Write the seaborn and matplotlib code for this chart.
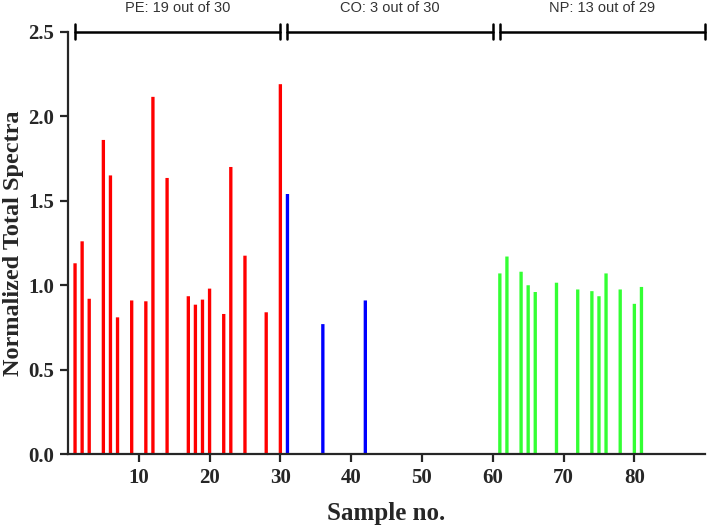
import pandas as pd
import matplotlib
matplotlib.use("Agg")
import matplotlib.pyplot as plt
import seaborn as sns

# sample numbers and normalized total spectra
pe_samples = [1, 2, 3, 5, 6, 7, 9, 11, 12, 14, 17, 18, 19, 20, 22, 23, 25, 28, 30]
pe_values = [1.13, 1.26, 0.92, 1.86, 1.65, 0.81, 0.91, 0.905, 2.115, 1.635,
             0.935, 0.885, 0.915, 0.98, 0.83, 1.70, 1.175, 0.84, 2.19]
co_samples = [31, 36, 42]
co_values = [1.54, 0.77, 0.91]
np_samples = [61, 62, 64, 65, 66, 69, 72, 74, 75, 76, 78, 80, 81]
np_values = [1.07, 1.17, 1.08, 1.00, 0.96, 1.015, 0.975, 0.965, 0.935, 1.07,
             0.975, 0.89, 0.99]

group_labels = ["PE: 19 out of 30", "CO: 3 out of 30", "NP: 13 out of 29"]
group_ranges = [(1, 30), (31, 60), (61, 90)]
x_ticks = [10, 20, 30, 40, 50, 60, 70, 80]
y_ticks = [0.0, 0.5, 1.0, 1.5, 2.0, 2.5]

df = pd.DataFrame({
    "sample": pe_samples + co_samples + np_samples,
    "value": pe_values + co_values + np_values,
    "group": ["PE"] * len(pe_samples) + ["CO"] * len(co_samples) + ["NP"] * len(np_samples),
})

sns.set_style("ticks")
serif = ["Liberation Serif", "DejaVu Serif"]

fig = plt.figure(figsize=(7.08, 5.30), dpi=100)
ax = fig.add_axes([0.096, 0.143, 0.9, 0.797])

sns.barplot(data=df, x="sample", y="value", hue="group",
            palette={"PE": "#ff0000", "CO": "#0000ff", "NP": "#33ff33"},
            native_scale=True, dodge=False, width=0.47, saturation=1,
            errorbar=None, legend=False, ax=ax)
for p in ax.patches:
    p.set_snap(False)
    p.set_linewidth(0)

ax.set_xlim(0, 90)
ax.set_ylim(0, 2.5)
ax.set_xticks(x_ticks)
ax.set_yticks(y_ticks)
ax.set_yticklabels([f"{v:.1f}" for v in y_ticks])
sns.despine(ax=ax)
for sp in ["left", "bottom"]:
    ax.spines[sp].set_linewidth(1.6)
ax.tick_params(width=1.6, length=6, direction="out", pad=4)
for lab in ax.get_xticklabels() + ax.get_yticklabels():
    lab.set_family(serif)
    lab.set_fontweight("bold")
    lab.set_fontsize(15)

ax.set_xlabel("Sample no.", family=serif, fontweight="bold", fontsize=18, labelpad=10)
ax.set_ylabel("Normalized Total Spectra", family=serif, fontweight="bold", fontsize=17.5, labelpad=3)

# group brackets along the top
for (a, b), label in zip(group_ranges, group_labels):
    ax.plot([a, b], [2.5, 2.5], color="black", lw=1.8, clip_on=False)
    for xe in (a, b):
        ax.plot([xe, xe], [2.455, 2.545], color="black", lw=1.8, clip_on=False)
    ax.text((a + b) / 2, 2.618, label, ha="center", va="baseline",
            fontsize=10.5, color="#333333", family=["Liberation Sans", "DejaVu Sans"])

fig.savefig("out.png", dpi=100)
